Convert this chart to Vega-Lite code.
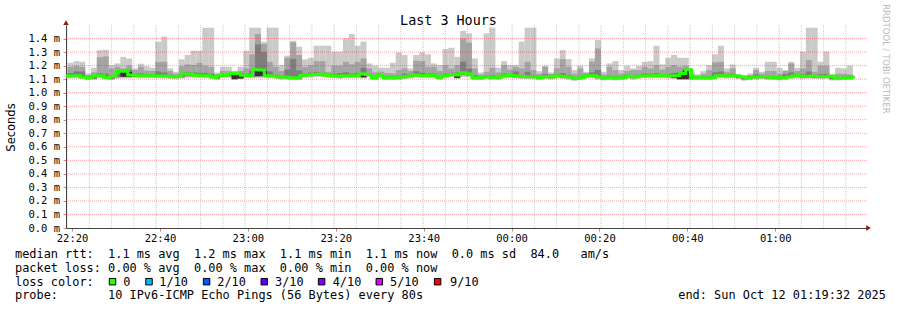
{
  "$schema": "https://vega.github.io/schema/vega-lite/v6.json",
  "width": 801,
  "height": 203,
  "autosize": {"type": "none"},
  "padding": {"left": 66, "top": 25, "right": 30, "bottom": 82},
  "background": "white",
  "config": {"view": {"stroke": null}, "font": "DejaVu Sans Mono"},
  "datasets": {
    "smoke": [
      {"t":19.65,"a":1.22,"b":1.19,"c":1.145,"m":1.123,"l":1.115,"lo":1.105},
      {"t":20.98,"a":1.233,"b":1.199,"c":1.157,"m":1.125,"l":1.117,"lo":1.107},
      {"t":22.31,"a":1.228,"b":1.191,"c":1.157,"m":1.125,"l":1.117,"lo":1.107},
      {"t":23.65,"a":1.142,"b":1.13,"c":1.12,"m":1.113,"l":1.105,"lo":1.095},
      {"t":24.98,"a":1.184,"b":1.15,"c":1.121,"m":1.111,"l":1.103,"lo":1.095},
      {"t":26.31,"a":1.315,"b":1.261,"c":1.142,"m":1.125,"l":1.117,"lo":1.107},
      {"t":27.65,"a":1.317,"b":1.268,"c":1.14,"m":1.125,"l":1.117,"lo":1.107},
      {"t":28.98,"a":1.204,"b":1.179,"c":1.128,"m":1.11,"l":1.102,"lo":1.094},
      {"t":30.31,"a":1.216,"b":1.191,"c":1.139,"m":1.122,"l":1.114,"lo":1.104},
      {"t":31.65,"a":1.265,"b":1.179,"c":1.165,"m":1.158,"l":1.115,"lo":1.106},
      {"t":32.98,"a":1.253,"b":1.2,"c":1.168,"m":1.158,"l":1.115,"lo":1.106},
      {"t":34.31,"a":1.179,"b":1.167,"c":1.139,"m":1.13,"l":1.122,"lo":1.112},
      {"t":35.65,"a":1.214,"b":1.191,"c":1.142,"m":1.125,"l":1.117,"lo":1.107},
      {"t":36.98,"a":1.196,"b":1.162,"c":1.134,"m":1.125,"l":1.117,"lo":1.107},
      {"t":38.31,"a":1.184,"b":1.16,"c":1.134,"m":1.125,"l":1.117,"lo":1.107},
      {"t":39.65,"a":1.377,"b":1.228,"c":1.157,"m":1.125,"l":1.117,"lo":1.107},
      {"t":40.98,"a":1.414,"b":1.228,"c":1.149,"m":1.123,"l":1.115,"lo":1.105},
      {"t":42.31,"a":1.179,"b":1.16,"c":1.132,"m":1.123,"l":1.115,"lo":1.105},
      {"t":43.65,"a":1.154,"b":1.14,"c":1.126,"m":1.117,"l":1.109,"lo":1.099},
      {"t":44.98,"a":1.246,"b":1.196,"c":1.139,"m":1.122,"l":1.114,"lo":1.104},
      {"t":46.31,"a":1.278,"b":1.209,"c":1.151,"m":1.138,"l":1.122,"lo":1.11},
      {"t":47.65,"a":1.31,"b":1.204,"c":1.151,"m":1.138,"l":1.122,"lo":1.11},
      {"t":48.98,"a":1.31,"b":1.22,"c":1.147,"m":1.128,"l":1.12,"lo":1.11},
      {"t":50.31,"a":1.48,"b":1.2,"c":1.146,"m":1.125,"l":1.117,"lo":1.107},
      {"t":51.65,"a":1.48,"b":1.19,"c":1.14,"m":1.125,"l":1.117,"lo":1.107},
      {"t":52.98,"a":1.149,"b":1.135,"c":1.122,"m":1.113,"l":1.105,"lo":1.095},
      {"t":54.31,"a":1.191,"b":1.16,"c":1.136,"m":1.127,"l":1.119,"lo":1.109},
      {"t":55.65,"a":1.191,"b":1.159,"c":1.137,"m":1.128,"l":1.12,"lo":1.11},
      {"t":56.98,"a":1.162,"b":1.155,"c":1.147,"m":1.142,"l":1.1,"lo":1.096},
      {"t":58.31,"a":1.191,"b":1.16,"c":1.146,"m":1.14,"l":1.105,"lo":1.1},
      {"t":59.65,"a":1.31,"b":1.179,"c":1.138,"m":1.128,"l":1.12,"lo":1.11},
      {"t":60.98,"a":1.48,"b":1.283,"c":1.165,"m":1.125,"l":1.117,"lo":1.107},
      {"t":62.31,"a":1.48,"b":1.433,"c":1.357,"m":1.17,"l":1.12,"lo":1.11},
      {"t":63.65,"a":1.375,"b":1.36,"c":1.3,"m":1.168,"l":1.12,"lo":1.11},
      {"t":64.98,"a":1.48,"b":1.228,"c":1.157,"m":1.125,"l":1.117,"lo":1.107},
      {"t":66.31,"a":1.48,"b":1.191,"c":1.133,"m":1.123,"l":1.115,"lo":1.105},
      {"t":67.65,"a":1.204,"b":1.16,"c":1.124,"m":1.115,"l":1.107,"lo":1.097},
      {"t":68.98,"a":1.273,"b":1.258,"c":1.17,"m":1.115,"l":1.107,"lo":1.097},
      {"t":70.31,"a":1.384,"b":1.372,"c":1.25,"m":1.111,"l":1.103,"lo":1.093},
      {"t":71.65,"a":1.34,"b":1.278,"c":1.164,"m":1.111,"l":1.103,"lo":1.093},
      {"t":72.98,"a":1.246,"b":1.19,"c":1.141,"m":1.128,"l":1.12,"lo":1.11},
      {"t":74.31,"a":1.258,"b":1.204,"c":1.148,"m":1.13,"l":1.122,"lo":1.112},
      {"t":75.65,"a":1.347,"b":1.233,"c":1.153,"m":1.135,"l":1.125,"lo":1.115},
      {"t":76.98,"a":1.347,"b":1.233,"c":1.148,"m":1.138,"l":1.125,"lo":1.115},
      {"t":78.31,"a":1.347,"b":1.154,"c":1.135,"m":1.128,"l":1.12,"lo":1.11},
      {"t":79.65,"a":1.303,"b":1.2,"c":1.14,"m":1.125,"l":1.117,"lo":1.107},
      {"t":80.98,"a":1.303,"b":1.199,"c":1.144,"m":1.122,"l":1.114,"lo":1.104},
      {"t":82.31,"a":1.401,"b":1.228,"c":1.15,"m":1.125,"l":1.117,"lo":1.107},
      {"t":83.65,"a":1.433,"b":1.209,"c":1.14,"m":1.125,"l":1.117,"lo":1.107},
      {"t":84.98,"a":1.347,"b":1.228,"c":1.146,"m":1.125,"l":1.117,"lo":1.107},
      {"t":86.31,"a":1.377,"b":1.253,"c":1.185,"m":1.138,"l":1.115,"lo":1.105},
      {"t":87.65,"a":1.216,"b":1.179,"c":1.144,"m":1.135,"l":1.125,"lo":1.115},
      {"t":88.98,"a":1.199,"b":1.15,"c":1.119,"m":1.111,"l":1.103,"lo":1.093},
      {"t":90.31,"a":1.184,"b":1.155,"c":1.135,"m":1.127,"l":1.119,"lo":1.109},
      {"t":91.65,"a":1.184,"b":1.145,"c":1.119,"m":1.111,"l":1.103,"lo":1.093},
      {"t":92.98,"a":1.221,"b":1.142,"c":1.121,"m":1.111,"l":1.103,"lo":1.093},
      {"t":94.31,"a":1.298,"b":1.167,"c":1.126,"m":1.113,"l":1.105,"lo":1.095},
      {"t":95.65,"a":1.278,"b":1.18,"c":1.14,"m":1.118,"l":1.11,"lo":1.1},
      {"t":96.98,"a":1.179,"b":1.159,"c":1.133,"m":1.123,"l":1.115,"lo":1.105},
      {"t":98.31,"a":1.278,"b":1.236,"c":1.159,"m":1.13,"l":1.122,"lo":1.112},
      {"t":99.65,"a":1.298,"b":1.233,"c":1.147,"m":1.127,"l":1.119,"lo":1.109},
      {"t":100.98,"a":1.283,"b":1.191,"c":1.141,"m":1.127,"l":1.119,"lo":1.109},
      {"t":102.31,"a":1.216,"b":1.191,"c":1.141,"m":1.127,"l":1.119,"lo":1.109},
      {"t":103.65,"a":1.204,"b":1.16,"c":1.123,"m":1.113,"l":1.105,"lo":1.095},
      {"t":104.98,"a":1.322,"b":1.204,"c":1.14,"m":1.125,"l":1.117,"lo":1.107},
      {"t":106.31,"a":1.332,"b":1.179,"c":1.147,"m":1.135,"l":1.125,"lo":1.115},
      {"t":107.65,"a":1.265,"b":1.204,"c":1.148,"m":1.13,"l":1.11,"lo":1.1},
      {"t":108.98,"a":1.456,"b":1.401,"c":1.23,"m":1.148,"l":1.13,"lo":1.115},
      {"t":110.31,"a":1.438,"b":1.369,"c":1.178,"m":1.138,"l":1.125,"lo":1.115},
      {"t":111.65,"a":1.253,"b":1.179,"c":1.128,"m":1.111,"l":1.103,"lo":1.093},
      {"t":112.98,"a":1.149,"b":1.135,"c":1.119,"m":1.111,"l":1.103,"lo":1.093},
      {"t":114.31,"a":1.438,"b":1.154,"c":1.128,"m":1.118,"l":1.11,"lo":1.1},
      {"t":115.65,"a":1.48,"b":1.184,"c":1.129,"m":1.113,"l":1.105,"lo":1.095},
      {"t":116.98,"a":1.184,"b":1.15,"c":1.123,"m":1.113,"l":1.105,"lo":1.095},
      {"t":118.31,"a":1.233,"b":1.204,"c":1.14,"m":1.125,"l":1.117,"lo":1.107},
      {"t":119.65,"a":1.204,"b":1.17,"c":1.138,"m":1.127,"l":1.119,"lo":1.109},
      {"t":120.98,"a":1.204,"b":1.19,"c":1.157,"m":1.123,"l":1.115,"lo":1.105},
      {"t":122.31,"a":1.377,"b":1.179,"c":1.132,"m":1.12,"l":1.112,"lo":1.102},
      {"t":123.65,"a":1.48,"b":1.228,"c":1.155,"m":1.118,"l":1.11,"lo":1.1},
      {"t":124.98,"a":1.48,"b":1.167,"c":1.131,"m":1.118,"l":1.11,"lo":1.1},
      {"t":126.31,"a":1.159,"b":1.14,"c":1.119,"m":1.111,"l":1.103,"lo":1.093},
      {"t":127.65,"a":1.199,"b":1.191,"c":1.138,"m":1.12,"l":1.112,"lo":1.102},
      {"t":128.98,"a":1.149,"b":1.138,"c":1.124,"m":1.115,"l":1.107,"lo":1.097},
      {"t":130.31,"a":1.253,"b":1.18,"c":1.137,"m":1.125,"l":1.117,"lo":1.107},
      {"t":131.65,"a":1.315,"b":1.248,"c":1.144,"m":1.12,"l":1.112,"lo":1.102},
      {"t":132.98,"a":1.248,"b":1.191,"c":1.13,"m":1.115,"l":1.107,"lo":1.097},
      {"t":134.31,"a":1.167,"b":1.14,"c":1.114,"m":1.105,"l":1.097,"lo":1.087},
      {"t":135.65,"a":1.199,"b":1.179,"c":1.122,"m":1.111,"l":1.103,"lo":1.093},
      {"t":136.98,"a":1.154,"b":1.145,"c":1.134,"m":1.125,"l":1.117,"lo":1.107},
      {"t":138.31,"a":1.253,"b":1.228,"c":1.15,"m":1.125,"l":1.117,"lo":1.107},
      {"t":139.65,"a":1.389,"b":1.327,"c":1.168,"m":1.115,"l":1.107,"lo":1.097},
      {"t":140.98,"a":1.154,"b":1.135,"c":1.115,"m":1.108,"l":1.1,"lo":1.09},
      {"t":142.31,"a":1.216,"b":1.191,"c":1.125,"m":1.111,"l":1.103,"lo":1.093},
      {"t":143.65,"a":1.233,"b":1.167,"c":1.121,"m":1.108,"l":1.1,"lo":1.09},
      {"t":144.98,"a":1.167,"b":1.14,"c":1.119,"m":1.111,"l":1.103,"lo":1.093},
      {"t":146.31,"a":1.199,"b":1.16,"c":1.133,"m":1.123,"l":1.115,"lo":1.105},
      {"t":147.65,"a":1.179,"b":1.167,"c":1.127,"m":1.115,"l":1.107,"lo":1.097},
      {"t":148.98,"a":1.199,"b":1.167,"c":1.133,"m":1.123,"l":1.115,"lo":1.105},
      {"t":150.31,"a":1.228,"b":1.191,"c":1.142,"m":1.125,"l":1.117,"lo":1.107},
      {"t":151.65,"a":1.233,"b":1.179,"c":1.14,"m":1.125,"l":1.117,"lo":1.107},
      {"t":152.98,"a":1.347,"b":1.204,"c":1.144,"m":1.127,"l":1.119,"lo":1.109},
      {"t":154.31,"a":1.209,"b":1.17,"c":1.134,"m":1.125,"l":1.117,"lo":1.107},
      {"t":155.65,"a":1.258,"b":1.191,"c":1.139,"m":1.123,"l":1.115,"lo":1.105},
      {"t":156.98,"a":1.278,"b":1.204,"c":1.146,"m":1.125,"l":1.11,"lo":1.1},
      {"t":158.31,"a":1.258,"b":1.191,"c":1.153,"m":1.142,"l":1.1,"lo":1.095},
      {"t":159.65,"a":1.258,"b":1.2,"c":1.176,"m":1.17,"l":1.1,"lo":1.095},
      {"t":160.98,"a":1.159,"b":1.14,"c":1.119,"m":1.111,"l":1.103,"lo":1.093},
      {"t":162.31,"a":1.135,"b":1.128,"c":1.118,"m":1.111,"l":1.103,"lo":1.093},
      {"t":163.65,"a":1.159,"b":1.14,"c":1.119,"m":1.111,"l":1.103,"lo":1.093},
      {"t":164.98,"a":1.204,"b":1.167,"c":1.122,"m":1.111,"l":1.103,"lo":1.093},
      {"t":166.31,"a":1.283,"b":1.224,"c":1.15,"m":1.125,"l":1.117,"lo":1.107},
      {"t":167.65,"a":1.347,"b":1.228,"c":1.157,"m":1.125,"l":1.117,"lo":1.107},
      {"t":168.98,"a":1.179,"b":1.154,"c":1.133,"m":1.123,"l":1.115,"lo":1.105},
      {"t":170.31,"a":1.209,"b":1.179,"c":1.14,"m":1.125,"l":1.117,"lo":1.107},
      {"t":171.65,"a":1.135,"b":1.13,"c":1.122,"m":1.118,"l":1.11,"lo":1.1},
      {"t":172.98,"a":1.125,"b":1.118,"c":1.11,"m":1.106,"l":1.098,"lo":1.088},
      {"t":174.31,"a":1.142,"b":1.13,"c":1.121,"m":1.115,"l":1.107,"lo":1.097},
      {"t":175.65,"a":1.184,"b":1.167,"c":1.135,"m":1.115,"l":1.107,"lo":1.097},
      {"t":176.98,"a":1.154,"b":1.14,"c":1.126,"m":1.12,"l":1.112,"lo":1.102},
      {"t":178.31,"a":1.228,"b":1.16,"c":1.123,"m":1.113,"l":1.105,"lo":1.095},
      {"t":179.65,"a":1.228,"b":1.16,"c":1.122,"m":1.111,"l":1.103,"lo":1.093},
      {"t":180.98,"a":1.184,"b":1.14,"c":1.118,"m":1.108,"l":1.1,"lo":1.09},
      {"t":182.31,"a":1.167,"b":1.16,"c":1.138,"m":1.115,"l":1.107,"lo":1.097},
      {"t":183.65,"a":1.228,"b":1.216,"c":1.15,"m":1.125,"l":1.117,"lo":1.107},
      {"t":184.98,"a":1.184,"b":1.16,"c":1.133,"m":1.123,"l":1.115,"lo":1.105},
      {"t":186.31,"a":1.303,"b":1.179,"c":1.138,"m":1.12,"l":1.112,"lo":1.102},
      {"t":187.65,"a":1.48,"b":1.241,"c":1.157,"m":1.123,"l":1.115,"lo":1.105},
      {"t":188.98,"a":1.48,"b":1.154,"c":1.129,"m":1.12,"l":1.112,"lo":1.102},
      {"t":190.31,"a":1.228,"b":1.199,"c":1.137,"m":1.118,"l":1.11,"lo":1.1},
      {"t":191.65,"a":1.303,"b":1.199,"c":1.139,"m":1.123,"l":1.115,"lo":1.105},
      {"t":192.98,"a":1.125,"b":1.12,"c":1.112,"m":1.108,"l":1.1,"lo":1.09},
      {"t":194.31,"a":1.184,"b":1.14,"c":1.115,"m":1.108,"l":1.1,"lo":1.09},
      {"t":195.65,"a":1.179,"b":1.14,"c":1.119,"m":1.111,"l":1.103,"lo":1.093},
      {"t":196.98,"a":1.199,"b":1.135,"c":1.124,"m":1.115,"l":1.107,"lo":1.097}
    ],
    "dark": [
      {"t":31.65,"dl":1.117,"dh":1.152},
      {"t":32.98,"dl":1.117,"dh":1.152},
      {"t":56.98,"dl":1.1,"dh":1.135},
      {"t":58.31,"dl":1.105,"dh":1.133},
      {"t":62.31,"dl":1.122,"dh":1.162},
      {"t":63.65,"dl":1.125,"dh":1.16},
      {"t":86.31,"dl":1.113,"dh":1.132},
      {"t":107.65,"dl":1.11,"dh":1.125},
      {"t":156.98,"dl":1.11,"dh":1.13},
      {"t":158.31,"dl":1.1,"dh":1.135},
      {"t":159.65,"dl":1.1,"dh":1.162}
    ],
    "vgrid": [
      {"v":25,"k":"minor"},{"v":30,"k":"minor"},{"v":35,"k":"minor"},{"v":45,"k":"minor"},{"v":50,"k":"minor"},{"v":55,"k":"minor"},
      {"v":65,"k":"minor"},{"v":70,"k":"minor"},{"v":75,"k":"minor"},{"v":85,"k":"minor"},{"v":90,"k":"minor"},{"v":95,"k":"minor"},
      {"v":105,"k":"minor"},{"v":110,"k":"minor"},{"v":115,"k":"minor"},{"v":125,"k":"minor"},{"v":130,"k":"minor"},{"v":135,"k":"minor"},
      {"v":145,"k":"minor"},{"v":150,"k":"minor"},{"v":155,"k":"minor"},{"v":165,"k":"minor"},{"v":170,"k":"minor"},{"v":175,"k":"minor"},
      {"v":185,"k":"minor"},{"v":190,"k":"minor"},{"v":195,"k":"minor"},
      {"v":20,"k":"major"},{"v":40,"k":"major"},{"v":60,"k":"major"},{"v":80,"k":"major"},{"v":100,"k":"major"},
      {"v":120,"k":"major"},{"v":140,"k":"major"},{"v":160,"k":"major"},{"v":180,"k":"major"}
    ],
    "hgrid": [
      {"h":0.1},{"h":0.2},{"h":0.3},{"h":0.4},{"h":0.5},{"h":0.6},{"h":0.7},
      {"h":0.8},{"h":0.9},{"h":1.0},{"h":1.1},{"h":1.2},{"h":1.3},{"h":1.4}
    ],
    "arrows": [
      {"x":19.75,"y":1.518,"s":"triangle-up"},
      {"x":200.1,"y":0,"s":"triangle-right"}
    ],
    "footer": [
      {"row":0,"col":0,"txt":"median\u00a0rtt:\u00a0\u00a01.1\u00a0ms\u00a0avg\u00a0\u00a01.2\u00a0ms\u00a0max\u00a0\u00a01.1\u00a0ms\u00a0min\u00a0\u00a01.1\u00a0ms\u00a0now\u00a0\u00a00.0\u00a0ms\u00a0sd\u00a0\u00a084.0\u00a0\u00a0\u00a0am/s"},
      {"row":1,"col":0,"txt":"packet\u00a0loss:\u00a00.00\u00a0%\u00a0avg\u00a0\u00a00.00\u00a0%\u00a0max\u00a0\u00a00.00\u00a0%\u00a0min\u00a0\u00a00.00\u00a0%\u00a0now"},
      {"row":2,"col":0,"txt":"loss\u00a0color:"},
      {"row":2,"col":15.1,"txt":"0"},
      {"row":2,"col":20.13,"txt":"1/10"},
      {"row":2,"col":28.21,"txt":"2/10"},
      {"row":2,"col":36.26,"txt":"3/10"},
      {"row":2,"col":44.31,"txt":"4/10"},
      {"row":2,"col":52.3,"txt":"5/10"},
      {"row":2,"col":60.67,"txt":"9/10"},
      {"row":3,"col":0,"txt":"probe:\u00a0\u00a0\u00a0\u00a0\u00a0\u00a0\u00a010\u00a0IPv6-ICMP\u00a0Echo\u00a0Pings\u00a0(56\u00a0Bytes)\u00a0every\u00a080s"},
      {"row":3,"col":92.51,"txt":"end:\u00a0Sun\u00a0Oct\u00a012\u00a001:19:32\u00a02025"}
    ],
    "loss": [
      {"row":2,"col":13.6,"c":"#26ff00"},
      {"row":2,"col":18.69,"c":"#00b8ff"},
      {"row":2,"col":26.72,"c":"#0059ff"},
      {"row":2,"col":34.77,"c":"#5e00ff"},
      {"row":2,"col":42.76,"c":"#7e00ff"},
      {"row":2,"col":50.81,"c":"#dd00ff"},
      {"row":2,"col":58.94,"c":"#ff0000"}
    ],
    "credit": [
      {"row":-14.26,"col":121.48,"txt":"RRDTOOL / TOBI OETIKER"}
    ],
    "heading": [
      {"row":-17.05,"col":60.46,"txt":"Last 3 Hours"}
    ]
  },
  "layer": [
    {
      "data": {"name": "smoke"},
      "mark": {"type": "bar", "size": 6, "color": "#cacaca", "clip": true},
      "encoding": {
        "x": {"field": "t", "type": "quantitative", "scale": {"domain": [19.75, 199.75], "nice": false, "zero": false},
          "axis": {"values": [20, 40, 60, 80, 100, 120, 140, 160, 180], "labelExpr": "format((22 + floor(datum.value / 60)) % 24, '02d') + ':' + format(datum.value % 60, '02d')",
            "title": null, "grid": false, "labelFont": "DejaVu Sans Mono", "labelFontSize": 10.5, "labelColor": "#000000",
            "tickSize": 3, "tickColor": "#e08080", "labelPadding": 2, "domainColor": "#444444", "labelFlush": false, "labelOverlap": false}},
        "y": {"field": "lo", "type": "quantitative", "scale": {"domain": [0, 1.5], "nice": false, "zero": false},
          "axis": {"values": [0, 0.1, 0.2, 0.3, 0.4, 0.5, 0.6, 0.7, 0.8, 0.9, 1.0, 1.1, 1.2, 1.3, 1.4],
            "labelExpr": "format(datum.value, '.1f') + ' m'", "grid": false, "labelOverlap": false,
            "labelFont": "DejaVu Sans Mono", "labelFontSize": 10.5, "labelColor": "#000000",
            "tickSize": 3, "tickColor": "#e08080", "labelPadding": 3.5, "domainColor": "#444444",
            "title": "Seconds", "titleFont": "DejaVu Sans", "titleFontSize": 11.5, "titleFontWeight": "normal", "titleColor": "#000000",
            "titleAngle": 270, "titleX": -55, "titleY": 102, "titleAlign": "center", "titleBaseline": "middle"}},
        "y2": {"field": "a"}
      }
    },
    {
      "data": {"name": "smoke"},
      "mark": {"type": "bar", "size": 6, "color": "#a4a4a4", "clip": true},
      "encoding": {
        "x": {"field": "t", "type": "quantitative", "scale": {"domain": [19.75, 199.75], "nice": false, "zero": false}, "axis": null},
        "y": {"field": "l", "type": "quantitative", "scale": {"domain": [0, 1.5], "nice": false, "zero": false}, "axis": null},
        "y2": {"field": "b"}
      }
    },
    {
      "data": {"name": "smoke"},
      "mark": {"type": "bar", "size": 6, "color": "#7e7e7e", "clip": true},
      "encoding": {
        "x": {"field": "t", "type": "quantitative", "scale": {"domain": [19.75, 199.75], "nice": false, "zero": false}, "axis": null},
        "y": {"field": "l", "type": "quantitative", "scale": {"domain": [0, 1.5], "nice": false, "zero": false}, "axis": null},
        "y2": {"field": "c"}
      }
    },
    {
      "data": {"name": "dark"},
      "mark": {"type": "bar", "size": 6, "color": "#323232", "clip": true},
      "encoding": {
        "x": {"field": "t", "type": "quantitative", "scale": {"domain": [19.75, 199.75], "nice": false, "zero": false}, "axis": null},
        "y": {"field": "dl", "type": "quantitative", "scale": {"domain": [0, 1.5], "nice": false, "zero": false}, "axis": null},
        "y2": {"field": "dh"}
      }
    },
    {
      "data": {"name": "hgrid"},
      "mark": {"type": "rule", "color": "#ff0000", "opacity": 0.35, "strokeDash": [1, 1], "strokeWidth": 1},
      "encoding": {"y": {"field": "h", "type": "quantitative", "scale": {"domain": [0, 1.5], "nice": false, "zero": false}, "axis": null}}
    },
    {
      "data": {"name": "vgrid"},
      "mark": {"type": "rule", "strokeDash": [1, 1], "strokeWidth": 1},
      "encoding": {
        "x": {"field": "v", "type": "quantitative", "scale": {"domain": [19.75, 199.75], "nice": false, "zero": false}, "axis": null},
        "stroke": {"field": "k", "type": "nominal", "scale": {"domain": ["minor", "major"], "range": ["#8c8c8c", "#ff0000"]}, "legend": null},
        "opacity": {"field": "k", "type": "nominal", "scale": {"domain": ["minor", "major"], "range": [0.45, 0.35]}, "legend": null}
      }
    },
    {
      "data": {"name": "smoke"},
      "mark": {"type": "line", "interpolate": "step", "color": "#26ff00", "strokeWidth": 3, "clip": true},
      "encoding": {
        "x": {"field": "t", "type": "quantitative", "scale": {"domain": [19.75, 199.75], "nice": false, "zero": false}, "axis": null},
        "y": {"field": "m", "type": "quantitative", "scale": {"domain": [0, 1.5], "nice": false, "zero": false}, "axis": null}
      }
    },
    {
      "data": {"name": "arrows"},
      "mark": {"type": "point", "filled": true, "size": 30, "color": "#8b1a1a", "opacity": 1},
      "encoding": {
        "x": {"field": "x", "type": "quantitative", "scale": {"domain": [19.75, 199.75], "nice": false, "zero": false}, "axis": null},
        "y": {"field": "y", "type": "quantitative", "scale": {"domain": [0, 1.5], "nice": false, "zero": false}, "axis": null},
        "shape": {"field": "s", "type": "nominal", "scale": null}
      }
    },
    {
      "data": {"name": "footer"},
      "mark": {"type": "text", "align": "left", "baseline": "middle", "font": "DejaVu Sans Mono", "fontSize": 11.9, "color": "#000000"},
      "encoding": {
        "x": {"field": "col", "type": "quantitative", "scale": {"domain": [7.113, 118.828], "nice": false, "zero": false}, "axis": null},
        "y": {"field": "row", "type": "quantitative", "scale": {"domain": [-16.737, -1.919], "nice": false, "zero": false, "reverse": true}, "axis": null},
        "text": {"field": "txt"}
      }
    },
    {
      "data": {"name": "loss"},
      "mark": {"type": "point", "shape": "square", "filled": true, "size": 42, "stroke": "#000000", "strokeWidth": 1, "opacity": 1},
      "encoding": {
        "x": {"field": "col", "type": "quantitative", "scale": {"domain": [7.113, 118.828], "nice": false, "zero": false}, "axis": null},
        "y": {"field": "row", "type": "quantitative", "scale": {"domain": [-16.737, -1.919], "nice": false, "zero": false, "reverse": true}, "axis": null},
        "fill": {"field": "c", "type": "nominal", "scale": null}
      }
    },
    {
      "data": {"name": "credit"},
      "mark": {"type": "text", "align": "center", "baseline": "middle", "angle": 90, "font": "DejaVu Sans", "fontSize": 8.5, "color": "#bbbbbb"},
      "encoding": {
        "x": {"field": "col", "type": "quantitative", "scale": {"domain": [7.113, 118.828], "nice": false, "zero": false}, "axis": null},
        "y": {"field": "row", "type": "quantitative", "scale": {"domain": [-16.737, -1.919], "nice": false, "zero": false, "reverse": true}, "axis": null},
        "text": {"field": "txt"}
      }
    },
    {
      "data": {"name": "heading"},
      "mark": {"type": "text", "align": "center", "baseline": "middle", "font": "DejaVu Sans Mono", "fontSize": 13.4, "color": "#000000"},
      "encoding": {
        "x": {"field": "col", "type": "quantitative", "scale": {"domain": [7.113, 118.828], "nice": false, "zero": false}, "axis": null},
        "y": {"field": "row", "type": "quantitative", "scale": {"domain": [-16.737, -1.919], "nice": false, "zero": false, "reverse": true}, "axis": null},
        "text": {"field": "txt"}
      }
    }
  ],
  "resolve": {"scale": {"x": "independent", "y": "independent"}, "axis": {"x": "independent", "y": "independent"}}
}
